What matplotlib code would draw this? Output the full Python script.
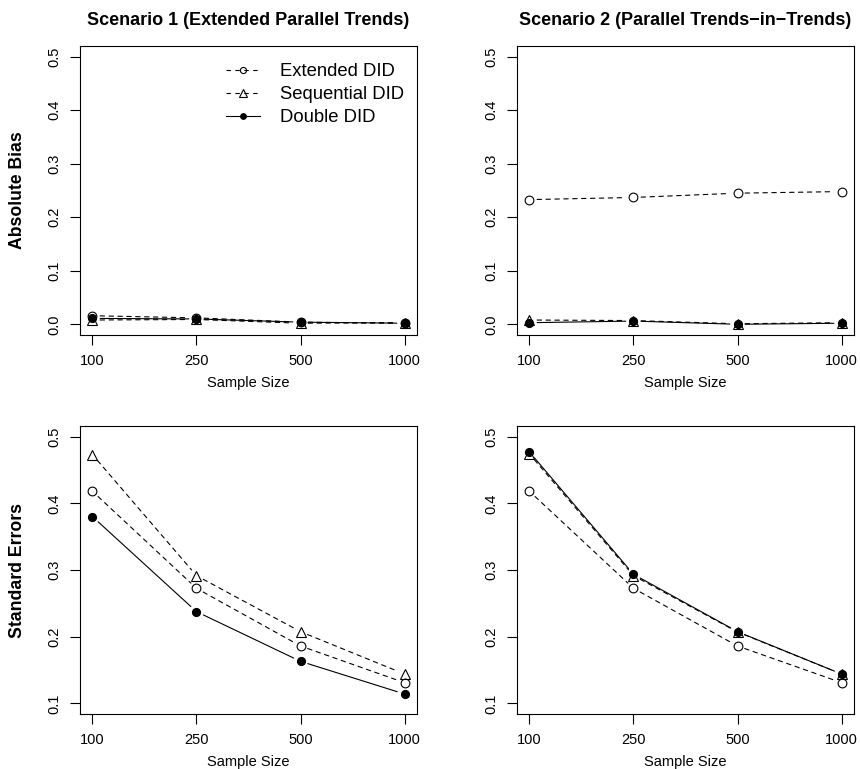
import matplotlib.pyplot as plt
from matplotlib.lines import Line2D

plt.rcParams['font.family'] = ['Liberation Sans', 'DejaVu Sans']

sample_sizes = ['100', '250', '500', '1000']
xpos = [1, 2, 3, 4]

# absolute bias
bias_s1_ext = [0.016, 0.012, 0.004, 0.002]
bias_s1_seq = [0.008, 0.009, 0.002, 0.003]
bias_s1_dbl = [0.011, 0.010, 0.004, 0.002]
bias_s2_ext = [0.233, 0.237, 0.245, 0.248]
bias_s2_seq = [0.008, 0.007, 0.001, 0.003]
bias_s2_dbl = [0.003, 0.006, 0.000, 0.002]

# standard errors
se_s1_ext = [0.418, 0.2725, 0.186, 0.131]
se_s1_seq = [0.473, 0.2915, 0.2075, 0.144]
se_s1_dbl = [0.380, 0.2375, 0.163, 0.114]
se_s2_ext = [0.418, 0.2725, 0.186, 0.131]
se_s2_seq = [0.474, 0.2915, 0.207, 0.144]
se_s2_dbl = [0.477, 0.2935, 0.2075, 0.144]

labels = ['Extended DID', 'Sequential DID', 'Double DID']
styles = [
    dict(marker='o', ms=6.3, mfc='none', ls=(0, (4, 4))),
    dict(marker='^', ms=7.5, mfc='none', ls=(0, (4, 4))),
    dict(marker='o', ms=5.8, mfc='black', ls='-'),
]

fig = plt.figure(figsize=(8.6, 7.69), dpi=100)

boxes = [
    [80/860, 1-335/769, 337/860, 289/769],
    [517/860, 1-335/769, 337/860, 289/769],
    [80/860, 1-714/769, 337/860, 288/769],
    [517/860, 1-714/769, 337/860, 288/769],
]
panels = [
    ([bias_s1_ext, bias_s1_seq, bias_s1_dbl], (0.0, 0.5), 'Scenario 1 (Extended Parallel Trends)', 'Absolute Bias'),
    ([bias_s2_ext, bias_s2_seq, bias_s2_dbl], (0.0, 0.5), 'Scenario 2 (Parallel Trends\u2212in\u2212Trends)', None),
    ([se_s1_ext, se_s1_seq, se_s1_dbl], (0.1, 0.5), None, 'Standard Errors'),
    ([se_s2_ext, se_s2_seq, se_s2_dbl], (0.1, 0.5), None, None),
]

for i, (series, (ylo, yhi), title, ylab) in enumerate(panels):
    ax = fig.add_axes(boxes[i])
    pad_y = (yhi - ylo) * 0.04
    ax.set_xlim(1 - 0.12, 4 + 0.12)
    ax.set_ylim(ylo - pad_y, yhi + pad_y)
    for vals, st in zip(series, styles):
        # R type="b": line segments with gaps around points
        for k in range(len(vals) - 1):
            ax.annotate('', xy=(xpos[k+1], vals[k+1]), xytext=(xpos[k], vals[k]),
                        arrowprops=dict(arrowstyle='-', shrinkA=5.5, shrinkB=5.5,
                                        lw=0.8, ls=st['ls'], color='black'))
    for vals, st in zip(series, styles):
        ax.plot(xpos, vals, ls='none', marker=st['marker'], ms=st['ms'],
                mfc=st['mfc'], mec='black', mew=0.8)
    ax.set_xticks(xpos)
    ax.set_xticklabels(sample_sizes)
    yt = [round(ylo + 0.1*j, 1) for j in range(int(round((yhi-ylo)/0.1)) + 1)]
    ax.set_yticks(yt)
    ax.set_yticklabels(['%.1f' % v for v in yt], rotation=90, va='center')
    ax.tick_params(length=7.5, width=0.8, labelsize=10.5, pad=6)
    for s in ax.spines.values():
        s.set_linewidth(0.8)
    ax.set_xlabel('Sample Size', fontsize=10.5)
    ax.xaxis.set_label_coords(0.5, -48/289)
    ax.xaxis.label.set_va('center')
    if ylab:
        ax.set_ylabel(ylab, fontsize=12.7, fontweight='bold')
        ax.yaxis.set_label_coords(-62/337, 0.5)
        ax.yaxis.label.set_va('center')
    if title:
        ax.set_title(title, fontsize=13, fontweight='bold', pad=15)
    if i == 0:
        handles = [Line2D([], [], color='black', lw=0.8, ls=st['ls'], marker=st['marker'],
                          ms=st['ms']*0.7, mfc=st['mfc'], mec='black', mew=0.8)
                   for st in styles]
        ax.legend(handles, labels, loc='upper right', bbox_to_anchor=(1.0, 0.985),
                  frameon=False, fontsize=13.3, handlelength=1.8, handletextpad=1.1,
                  labelspacing=0.32, borderaxespad=0.3)

fig.savefig('out.png', dpi=100)
